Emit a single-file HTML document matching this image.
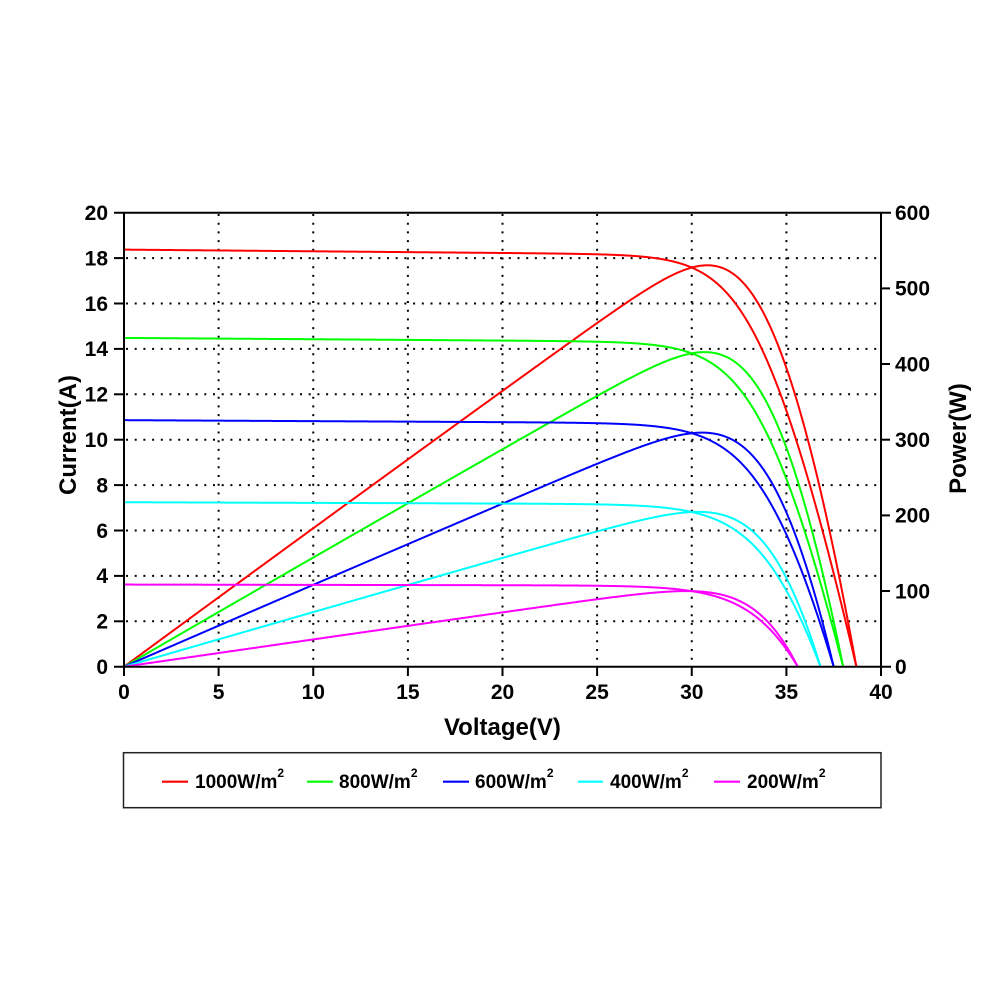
<!DOCTYPE html>
<html>
<head>
<meta charset="utf-8">
<style>
  html,body{margin:0;padding:0;background:#fff;}
  svg{display:block;}
  text{font-family:"Liberation Sans",Arial,sans-serif;font-weight:bold;fill:#000;}
</style>
</head>
<body>
<svg id="chart" xmlns="http://www.w3.org/2000/svg" width="1000" height="1000" viewBox="0 0 1000 1000">
  <rect x="0" y="0" width="1000" height="1000" fill="#fff"/>
  <!-- grid -->
  <g stroke="#000" stroke-width="2" stroke-dasharray="2,6.7" fill="none">
    <line x1="218.6" y1="214" x2="218.6" y2="666"/>
    <line x1="313.25" y1="214" x2="313.25" y2="666"/>
    <line x1="407.9" y1="214" x2="407.9" y2="666"/>
    <line x1="502.5" y1="214" x2="502.5" y2="666"/>
    <line x1="597.1" y1="214" x2="597.1" y2="666"/>
    <line x1="691.75" y1="214" x2="691.75" y2="666"/>
    <line x1="786.4" y1="214" x2="786.4" y2="666"/>
    <line x1="126" y1="621.3" x2="880" y2="621.3"/>
    <line x1="126" y1="575.9" x2="880" y2="575.9"/>
    <line x1="126" y1="530.5" x2="880" y2="530.5"/>
    <line x1="126" y1="485.1" x2="880" y2="485.1"/>
    <line x1="126" y1="439.7" x2="880" y2="439.7"/>
    <line x1="126" y1="394.3" x2="880" y2="394.3"/>
    <line x1="126" y1="348.9" x2="880" y2="348.9"/>
    <line x1="126" y1="303.5" x2="880" y2="303.5"/>
    <line x1="126" y1="258.1" x2="880" y2="258.1"/>
  </g>
  <g id="curves" fill="none" stroke-width="2" stroke-linejoin="round"></g>
  <!-- axes frame -->
  <g stroke="#000" stroke-width="2" fill="none">
    <line x1="124" y1="212.7" x2="124" y2="667.7"/>
    <line x1="881" y1="212.7" x2="881" y2="667.7"/>
    <line x1="114" y1="212.7" x2="891" y2="212.7"/>
    <line x1="114" y1="666.7" x2="891" y2="666.7"/>
    <!-- left ticks -->
    <line x1="114" y1="621.3" x2="124" y2="621.3"/>
    <line x1="114" y1="575.9" x2="124" y2="575.9"/>
    <line x1="114" y1="530.5" x2="124" y2="530.5"/>
    <line x1="114" y1="485.1" x2="124" y2="485.1"/>
    <line x1="114" y1="439.7" x2="124" y2="439.7"/>
    <line x1="114" y1="394.3" x2="124" y2="394.3"/>
    <line x1="114" y1="348.9" x2="124" y2="348.9"/>
    <line x1="114" y1="303.5" x2="124" y2="303.5"/>
    <line x1="114" y1="258.1" x2="124" y2="258.1"/>
    <!-- right ticks -->
    <line x1="881" y1="591.0" x2="890" y2="591.0"/>
    <line x1="881" y1="515.4" x2="890" y2="515.4"/>
    <line x1="881" y1="439.7" x2="890" y2="439.7"/>
    <line x1="881" y1="364.0" x2="890" y2="364.0"/>
    <line x1="881" y1="288.4" x2="890" y2="288.4"/>
    <!-- bottom ticks -->
    <line x1="124" y1="666.7" x2="124" y2="676"/>
    <line x1="218.6" y1="666.7" x2="218.6" y2="676"/>
    <line x1="313.25" y1="666.7" x2="313.25" y2="676"/>
    <line x1="407.9" y1="666.7" x2="407.9" y2="676"/>
    <line x1="502.5" y1="666.7" x2="502.5" y2="676"/>
    <line x1="597.1" y1="666.7" x2="597.1" y2="676"/>
    <line x1="691.75" y1="666.7" x2="691.75" y2="676"/>
    <line x1="786.4" y1="666.7" x2="786.4" y2="676"/>
    <line x1="881" y1="666.7" x2="881" y2="676"/>
  </g>
  <!-- left tick labels -->
  <g font-size="21" text-anchor="end">
    <text x="108" y="220">20</text>
    <text x="108" y="265.4">18</text>
    <text x="108" y="310.8">16</text>
    <text x="108" y="356.2">14</text>
    <text x="108" y="401.6">12</text>
    <text x="108" y="447">10</text>
    <text x="108" y="492.4">8</text>
    <text x="108" y="537.8">6</text>
    <text x="108" y="583.2">4</text>
    <text x="108" y="628.6">2</text>
    <text x="108" y="674">0</text>
  </g>
  <!-- right tick labels -->
  <g font-size="21" text-anchor="start">
    <text x="895" y="220">600</text>
    <text x="895" y="295.7">500</text>
    <text x="895" y="371.3">400</text>
    <text x="895" y="447">300</text>
    <text x="895" y="522.7">200</text>
    <text x="895" y="598.3">100</text>
    <text x="895" y="674">0</text>
  </g>
  <!-- bottom tick labels -->
  <g font-size="21" text-anchor="middle">
    <text x="124" y="699">0</text>
    <text x="218.6" y="699">5</text>
    <text x="313.25" y="699">10</text>
    <text x="407.9" y="699">15</text>
    <text x="502.5" y="699">20</text>
    <text x="597.1" y="699">25</text>
    <text x="691.75" y="699">30</text>
    <text x="786.4" y="699">35</text>
    <text x="881" y="699">40</text>
  </g>
  <!-- axis titles -->
  <text x="502.4" y="735" font-size="24" text-anchor="middle">Voltage(V)</text>
  <text transform="translate(76,435) rotate(-90)" font-size="24" text-anchor="middle">Current(A)</text>
  <text transform="translate(966,438.5) rotate(-90)" font-size="24" text-anchor="middle">Power(W)</text>
  <!-- legend -->
  <rect x="123.5" y="752.7" width="757.5" height="55" fill="#fff" stroke="#222" stroke-width="1.5"/>
  <g stroke-width="2.2">
    <line x1="162" y1="781.7" x2="188" y2="781.7" stroke="#ff0000"/>
    <line x1="307" y1="781.7" x2="333" y2="781.7" stroke="#00ff00"/>
    <line x1="443" y1="781.7" x2="469" y2="781.7" stroke="#0000ff"/>
    <line x1="578" y1="781.7" x2="603" y2="781.7" stroke="#00ffff"/>
    <line x1="714" y1="781.7" x2="740" y2="781.7" stroke="#ff00ff"/>
  </g>
  <g font-size="19">
    <text x="195" y="788">1000W/m<tspan font-size="12" dy="-11">2</tspan></text>
    <text x="339" y="788">800W/m<tspan font-size="12" dy="-11">2</tspan></text>
    <text x="475" y="788">600W/m<tspan font-size="12" dy="-11">2</tspan></text>
    <text x="610" y="788">400W/m<tspan font-size="12" dy="-11">2</tspan></text>
    <text x="747" y="788">200W/m<tspan font-size="12" dy="-11">2</tspan></text>
  </g>
</svg>
<script>
(function(){
  var X0=124, XS=18.925, Y0=666.7, YS=22.7, PS=454/600;
  var curves=[
    {c:'#ff0000',isc:18.4,voc:38.7,a:1.512},
    {c:'#00ff00',isc:14.5,voc:38.0,a:1.58},
    {c:'#0000ff',isc:10.87,voc:37.5,a:1.72},
    {c:'#00ffff',isc:7.25,voc:36.8,a:1.8},
    {c:'#ff00ff',isc:3.62,voc:35.6,a:1.85}
  ];
  var Rs=0.1975;
  var g=document.getElementById('curves');
  var NS='http://www.w3.org/2000/svg';
  curves.forEach(function(cv){
    var a=cv.a;
    var Iph=cv.isc, gs=0.0004*cv.isc, Voc=cv.voc;
    var I0=(Iph-gs*Voc)/(Math.exp(Voc/a)-1);
    function f(I,V){var Vd=V+I*Rs;return Iph-I0*(Math.exp(Vd/a)-1)-gs*Vd-I;}
    function solve(V){
      var lo=-3, hi=Iph+2;
      for(var k=0;k<60;k++){var m=(lo+hi)/2; if(f(m,V)>0) lo=m; else hi=m;}
      return (lo+hi)/2;
    }
    var iv=[], pv=[];
    var n=Math.ceil(Voc/0.05);
    for(var i=0;i<=n;i++){
      var V=Math.min(i*0.05,Voc);
      var I=solve(V); if(I<0) I=0; if(V>=Voc) I=0;
      var x=X0+V*XS;
      iv.push(x.toFixed(2)+','+(Y0-I*YS).toFixed(2));
      pv.push(x.toFixed(2)+','+(Y0-V*I*PS).toFixed(2));
    }
    [iv,pv].forEach(function(pts){
      var p=document.createElementNS(NS,'polyline');
      p.setAttribute('points',pts.join(' '));
      p.setAttribute('stroke',cv.c);
      g.appendChild(p);
    });
  });
})();
</script>
</body>
</html>
